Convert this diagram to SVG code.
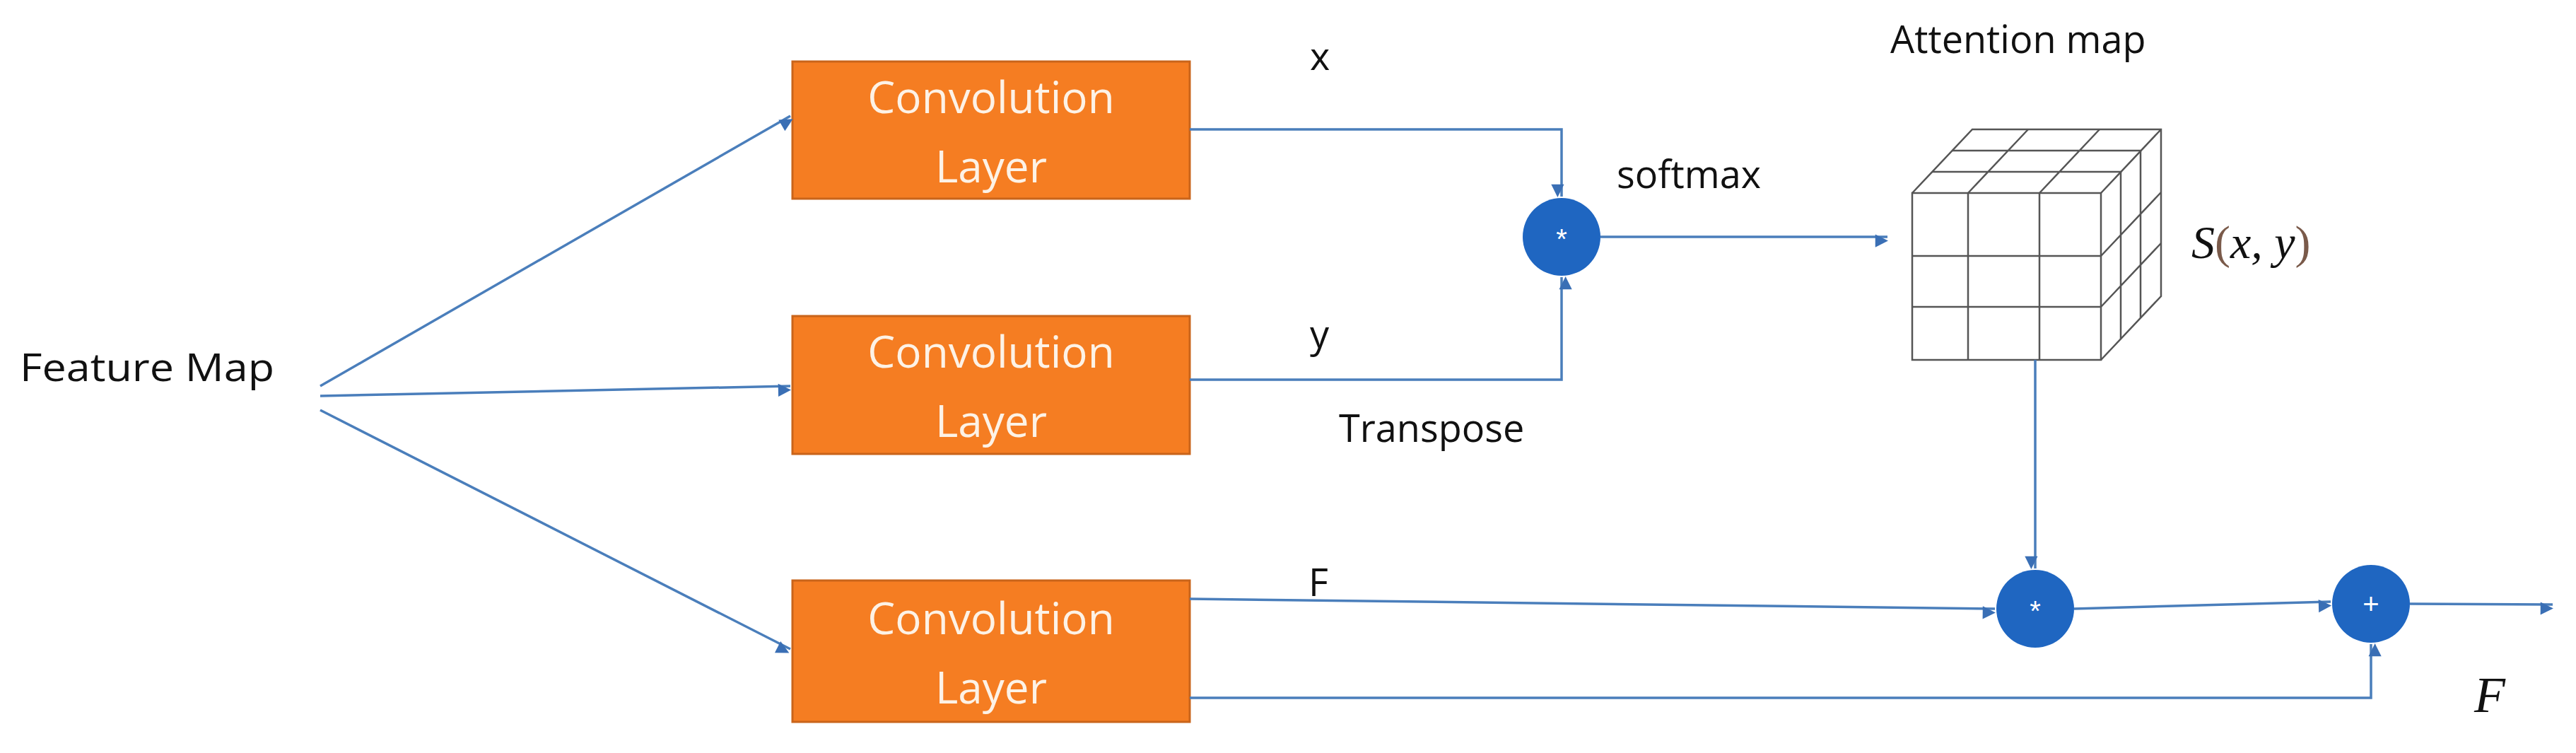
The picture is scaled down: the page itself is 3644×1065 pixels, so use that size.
<svg xmlns="http://www.w3.org/2000/svg" width="3644" height="1065" viewBox="0 0 3644 1065">
<style>
.t{font-family:"Liberation Sans Narrow","Open Sans",sans-serif;fill:#111;font-size:54px}
.bt{font-family:"Open Sans","Liberation Sans",sans-serif;fill:#fdf2e6;font-size:62px;text-anchor:middle}
.box{fill:#f57d22;stroke:#c9641a;stroke-width:3}
.ln{fill:none;stroke:#4a7ebb;stroke-width:3.5}
.op{fill:#1f66c1}
.ot{font-family:"Liberation Sans",sans-serif;fill:#fff;font-size:40px;text-anchor:middle}
.g{fill:none;stroke:#555;stroke-width:2.5}
.m{font-family:"Liberation Serif",serif;font-style:italic;fill:#111}
</style>
<defs>
<marker id="a" viewBox="0 0 10 10" refX="9" refY="5" markerWidth="7" markerHeight="7" markerUnits="userSpaceOnUse" orient="auto" style="overflow:visible">
<path d="M0,0L10,5L0,10z" fill="#3a6fb5" transform="scale(2.6) translate(-6,-0)"/>
</marker>
</defs>
<rect width="3644" height="1065" fill="#fff"/>
<g id="feature"><text class="t" x="28" y="539" textLength="360" lengthAdjust="spacingAndGlyphs">Feature Map</text></g>
<g id="conv1"><rect class="box" x="1121" y="87" width="562" height="194"/><text class="bt" x="1402" y="160">Convolution</text><text class="bt" x="1402" y="258">Layer</text></g>
<g id="conv2"><rect class="box" x="1121" y="447" width="562" height="195"/><text class="bt" x="1402" y="520">Convolution</text><text class="bt" x="1402" y="618">Layer</text></g>
<g id="conv3"><rect class="box" x="1121" y="821" width="562" height="200"/><text class="bt" x="1402" y="897">Convolution</text><text class="bt" x="1402" y="995">Layer</text></g>
<g id="mul1"><ellipse class="op" cx="2209" cy="335" rx="55" ry="55"/><text class="ot" x="2209" y="352">*</text></g>
<g id="mul2"><ellipse class="op" cx="2879" cy="861" rx="55" ry="55"/><text class="ot" x="2879" y="878">*</text></g>
<g id="add"><ellipse class="op" cx="3354" cy="854" rx="55" ry="55"/><text class="ot" x="3354" y="868">+</text></g>
<g id="cube">
<rect x="2705" y="273" width="267" height="236" fill="#fff" class="g"/>
<path class="g" d="M2784,273V509M2885,273V509M2705,362H2972M2705,434H2972"/>
<path class="g" d="M2705,273L2790,183H3057V419L2972,509M2972,273L3057,183"/>
<path class="g" d="M2784,273L2869,183M2885,273L2970,183M2733,243H3000M2762,213H3028M2972,362L3057,272M2972,434L3057,344M3000,243V479M3028,213V449"/>
</g>
<g id="labels">
<text class="t" x="1853" y="99">x</text>
<text class="t" x="1853" y="492">y</text>
<text class="t" x="1894" y="625">Transpose</text>
<text class="t" x="2287" y="266">softmax</text>
<text class="t" x="2674" y="75">Attention map</text>
<text class="t" x="1851" y="843">F</text>
<text class="m" x="3100" y="365" font-size="66">S<tspan fill="#7a5a4a" font-style="normal">(</tspan>x, y<tspan fill="#7a5a4a" font-style="normal">)</tspan></text>
<text class="m" x="3500" y="1007" font-size="72">F</text>
</g>
<g id="connectors">
<path class="ln" marker-end="url(#a)" d="M453,546L1118,164"/>
<path class="ln" marker-end="url(#a)" d="M453,560L1118,546"/>
<path class="ln" marker-end="url(#a)" d="M453,580L1118,918"/>
<path class="ln" marker-end="url(#a)" d="M1683,183H2209V278"/>
<path class="ln" marker-end="url(#a)" d="M1683,537H2209V392"/>
<path class="ln" marker-end="url(#a)" d="M2264,335H2670"/>
<path class="ln" marker-end="url(#a)" d="M2879,509V804"/>
<path class="ln" marker-end="url(#a)" d="M1683,847L2822,861"/>
<path class="ln" marker-end="url(#a)" d="M2934,861L3297,851"/>
<path class="ln" marker-end="url(#a)" d="M3409,854L3611,855"/>
<path class="ln" marker-end="url(#a)" d="M1683,987H3354V911"/>
</g>
</svg>
